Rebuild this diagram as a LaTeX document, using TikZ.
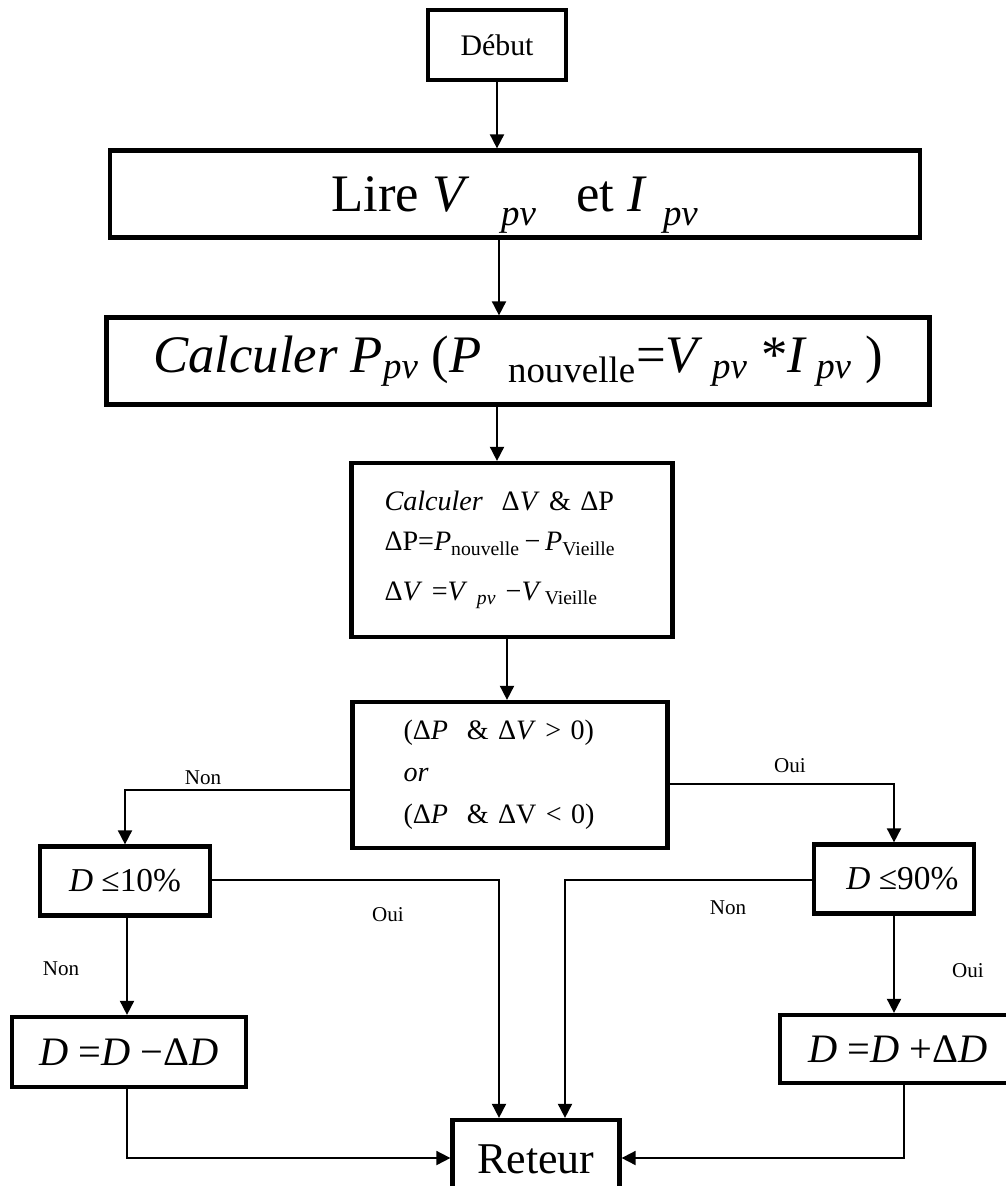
\documentclass[tikz,border=0pt]{standalone}
\usepackage{fontspec}
\setmainfont{Liberation Serif}
\usetikzlibrary{arrows.meta}
\newcommand\sbx[1]{\textsubscript{#1}}
\newcommand\sblow[1]{\raisebox{-0.3ex}{\textsubscript{#1}}}
\begin{document}
\begin{tikzpicture}[x=0.02cm,y=-0.02cm]
\tikzset{
  box/.style={draw, line width=2.4pt, inner sep=0pt, align=center},
  wh/.style n args={2}{minimum width=#1*0.02cm, minimum height=#2*0.02cm},
  conn/.style={line width=1pt, -{Triangle[width=8pt,length=8pt]}},
  lbl/.style={font=\fontsize{12}{14}\selectfont, inner sep=0pt}
}
\useasboundingbox (0,0) rectangle (1006,1186);
\clip (0,0) rectangle (1006,1186);
% boxes
\node[box, wh={138}{70}, font=\fontsize{17}{20}\selectfont] (debut) at (497,45) {Début};
\node[box, wh={810}{87}, font=\fontsize{30}{34}\selectfont, text depth=0pt] (lire) at (515,194)
  {Lire \textit{V}\hspace{0.6em}\sblow{\textit{pv}}\hspace{0.5em} et \textit{I}\hspace{0.3em}\sblow{\textit{pv}}};
\node[box, wh={823}{87}, font=\fontsize{30}{34}\selectfont] (calc) at (518,361)
  {\textit{Calculer P}\sbx{\textit{pv}} (\textit{P}\ \ \sbx{nouvelle}=\textit{V}\sbx{\ \textit{pv}}\ *\textit{I}\sbx{\ \textit{pv}}\ )};
\node[box, wh={321}{174}, align=left, inner xsep=33*0.02cm, text width=255*0.02cm,
  font=\fontsize{16}{23}\selectfont] (dcalc) at (512,550)
  {\textit{Calculer}\ \ Δ\textit{V}\ \& ΔP\\
   ΔP=\textit{P}\sbx{nouvelle}\,−\,\textit{P}\sbx{Vieille}\\[5pt]
   Δ\textit{V} =\textit{V}\sbx{\ \textit{pv}}\ −\textit{V}\sbx{\,Vieille}};
\node[box, wh={315}{146}, align=left, inner xsep=51*0.02cm, text width=213*0.02cm,
  font=\fontsize{16}{24}\selectfont] (cond) at (510,775)
  {(Δ\textit{P}\ \ \&\ Δ\textit{V} > 0)\\
   \textit{or}\\
   (Δ\textit{P}\ \ \&\ ΔV < 0)};
\node[box, wh={170}{69}, font=\fontsize{19}{22}\selectfont] (d10) at (125,881)
  {\raisebox{-4pt}{\textit{D}\ ≤10\%}};
\node[box, wh={160}{69}, font=\fontsize{19}{22}\selectfont] (d90) at (894,879)
  {\raisebox{-4pt}{\ \ \textit{D}\ ≤90\%}};
\node[box, wh={234}{70}, font=\fontsize{23}{26}\selectfont] (dm) at (129,1052)
  {\textit{D} =\textit{D} −Δ\textit{D}};
\node[box, wh={236}{68}, font=\fontsize{23}{26}\selectfont] (dp) at (898,1049)
  {\textit{D} =\textit{D} +Δ\textit{D}};
\node[box, wh={167}{78}, font=\fontsize{25}{28}\selectfont] (ret) at (536,1159)
  {Reteur};
% helper coordinates
\coordinate (c1) at (499,0);
\coordinate (c2) at (497,0);
\coordinate (c3) at (507,0);
\coordinate (r1) at (499,0);
\coordinate (r2) at (565,0);
\coordinate (cLL) at (127,0);
\coordinate (cRR) at (904,0);
\coordinate (rA) at (0,790);
\coordinate (rA2) at (0,784);
\coordinate (rB) at (0,880);
\coordinate (rC) at (0,1158);
% connectors
\draw[conn] (debut.south) -- (debut.south |- lire.north);
\draw[conn] (lire.south -| c1) -- (calc.north -| c1);
\draw[conn] (calc.south -| c2) -- (dcalc.north -| c2);
\draw[conn] (dcalc.south -| c3) -- (cond.north -| c3);
\draw[conn] (cond.west |- rA) -| (d10.north);
\draw[conn] (cond.east |- rA2) -| (d90.north);
\draw[conn] (d10.east |- rB) -| (ret.north -| r1);
\draw[conn] (d90.west |- rB) -| (ret.north -| r2);
\draw[conn] (d10.south -| cLL) -- (dm.north -| cLL);
\draw[conn] (d90.south) -- (d90.south |- dp.north);
\draw[conn] (dm.south -| cLL) |- (ret.west |- rC);
\draw[conn] (dp.south -| cRR) |- (ret.east |- rC);
% labels
\node[lbl] (l1) at (203,778) {Non};
\node[lbl] (l2) at (790,766) {Oui};
\node[lbl] (l3) at (388,915) {Oui};
\node[lbl] (l4) at (728,908) {Non};
\node[lbl] (l5) at (61,969) {Non};
\node[lbl] (l6) at (968,971) {Oui};
\end{tikzpicture}
\end{document}
